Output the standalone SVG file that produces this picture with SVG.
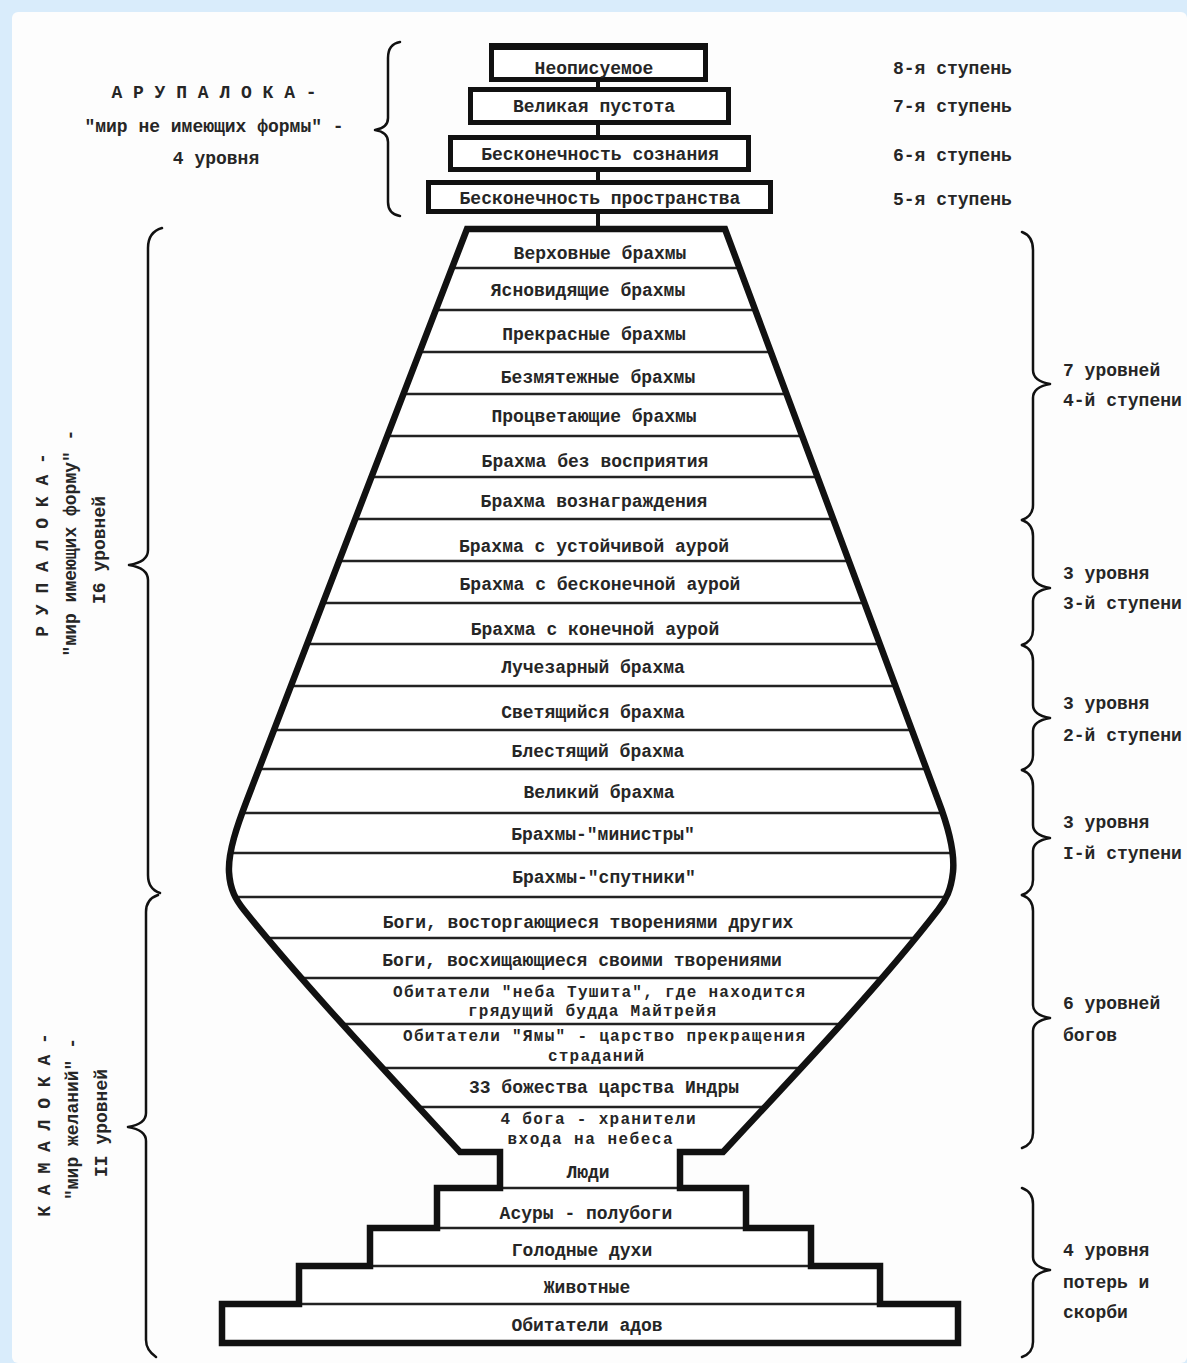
<svg xmlns="http://www.w3.org/2000/svg" width="1187" height="1363" viewBox="0 0 1187 1363">
<defs>
<style>
.t{font-family:"Liberation Mono","DejaVu Sans Mono",monospace;font-size:18px;fill:#262626;font-weight:bold}
.s{font-size:16px}
.c{text-anchor:middle}
.box{fill:#fff;stroke:#111;stroke-width:5}
.out{fill:none;stroke:#111;stroke-width:6.5;stroke-linejoin:miter}
.div{stroke:#222;stroke-width:2.5}
.br{fill:none;stroke:#111;stroke-width:2.5;stroke-linecap:round;stroke-linejoin:round}
.stem{stroke:#111;stroke-width:4}
</style>
<clipPath id="vc"><path d="M467,229 L725,229 L938,800 C948,826 955,852 953,872 C951,890 946,900 938,910 C884,980 809,1060 723,1152 L460,1152 C375,1060 300,980 244,910 C236,900 230,890 229,872 C228,852 237,826 247,800 Z"/></clipPath>
</defs>
<rect x="0" y="0" width="1187" height="1363" fill="#d9ecfb"/>
<rect x="12" y="12" width="1175" height="1351" rx="6" fill="#fdfdfd"/>

<g id="connectors">
<line class="stem" x1="598" y1="80" x2="598" y2="90"/>
<line class="stem" x1="598" y1="123" x2="598" y2="137"/>
<line class="stem" x1="598" y1="170" x2="598" y2="182"/>
<line class="stem" x1="598" y1="212" x2="598" y2="230"/>
</g>

<g id="arupa-boxes">
<g id="n-neopisuemoe"><rect class="box" x="491.5" y="46.5" width="214" height="33"/><rect x="489" y="43" width="219" height="7" fill="#111"/><text class="t c" x="594" y="74">Неописуемое</text></g>
<g id="n-velikaya-pustota"><rect class="box" x="470.5" y="89.5" width="258" height="33"/><text class="t c" x="594" y="112">Великая пустота</text></g>
<g id="n-beskon-soznaniya"><rect class="box" x="450.5" y="137.5" width="298" height="32"/><text class="t c" x="600" y="160">Бесконечность сознания</text></g>
<g id="n-beskon-prostranstva"><rect class="box" x="428.5" y="182.5" width="342" height="29"/><text class="t c" x="600" y="204">Бесконечность пространства</text></g>
</g>

<g id="vase">
<path d="M467,229 L725,229 L938,800 C948,826 955,852 953,872 C951,890 946,900 938,910 C884,980 809,1060 723,1152 L460,1152 C375,1060 300,980 244,910 C236,900 230,890 229,872 C228,852 237,826 247,800 Z" fill="#fff"/>
<g clip-path="url(#vc)">
<line class="div" x1="200" y1="268" x2="1000" y2="268"/>
<line class="div" x1="200" y1="310" x2="1000" y2="310"/>
<line class="div" x1="200" y1="352" x2="1000" y2="352"/>
<line class="div" x1="200" y1="394" x2="1000" y2="394"/>
<line class="div" x1="200" y1="436" x2="1000" y2="436"/>
<line class="div" x1="200" y1="477" x2="1000" y2="477"/>
<line class="div" x1="200" y1="519" x2="1000" y2="519"/>
<line class="div" x1="200" y1="561" x2="1000" y2="561"/>
<line class="div" x1="200" y1="603" x2="1000" y2="603"/>
<line class="div" x1="200" y1="644" x2="1000" y2="644"/>
<line class="div" x1="200" y1="686" x2="1000" y2="686"/>
<line class="div" x1="200" y1="730" x2="1000" y2="730"/>
<line class="div" x1="200" y1="769" x2="1000" y2="769"/>
<line class="div" x1="200" y1="813" x2="1000" y2="813"/>
<line class="div" x1="200" y1="853" x2="1000" y2="853"/>
<line class="div" x1="200" y1="897" x2="1000" y2="897"/>
<line class="div" x1="200" y1="938" x2="1000" y2="938"/>
<line class="div" x1="200" y1="978" x2="1000" y2="978"/>
<line class="div" x1="200" y1="1024" x2="1000" y2="1024"/>
<line class="div" x1="200" y1="1068" x2="1000" y2="1068"/>
<line class="div" x1="200" y1="1107" x2="1000" y2="1107"/>
</g>
<path d="M437,1188 L746,1188 L746,1228 L811,1228 L811,1266 L880,1266 L880,1304 L958,1304 L958,1343 L222,1343 L222,1304 L299,1304 L299,1266 L370,1266 L370,1228 L437,1228 Z" fill="#fff"/>
<rect x="500" y="1152" width="180" height="36" fill="#fff"/>
<line class="div" x1="437" y1="1228" x2="746" y2="1228"/>
<line class="div" x1="370" y1="1266" x2="811" y2="1266"/>
<line class="div" x1="299" y1="1304" x2="880" y2="1304"/>
<line class="div" x1="500" y1="1188" x2="680" y2="1188" stroke-width="3.5"/>
<path class="out" d="M467,229 L725,229 L938,800 C948,826 955,852 953,872 C951,890 946,900 938,910 C884,980 809,1060 723,1152 L680,1152 L680,1188 L746,1188 L746,1228 L811,1228 L811,1266 L880,1266 L880,1304 L958,1304 L958,1343 L222,1343 L222,1304 L299,1304 L299,1266 L370,1266 L370,1228 L437,1228 L437,1188 L500,1188 L500,1152 L460,1152 C375,1060 300,980 244,910 C236,900 230,890 229,872 C228,852 237,826 247,800 Z"/>
</g>

<g id="rupa-levels">
<g id="r1"><text class="t c" x="600" y="259">Верховные брахмы</text></g>
<g id="r2"><text class="t c" x="588" y="296">Ясновидящие брахмы</text></g>
<g id="r3"><text class="t c" x="594" y="340">Прекрасные брахмы</text></g>
<g id="r4"><text class="t c" x="598" y="383">Безмятежные брахмы</text></g>
<g id="r5"><text class="t c" x="594" y="422">Процветающие брахмы</text></g>
<g id="r6"><text class="t c" x="595" y="467">Брахма без восприятия</text></g>
<g id="r7"><text class="t c" x="594" y="507">Брахма вознаграждения</text></g>
<g id="r8"><text class="t c" x="594" y="552">Брахма с устойчивой аурой</text></g>
<g id="r9"><text class="t c" x="600" y="590">Брахма с бесконечной аурой</text></g>
<g id="r10"><text class="t c" x="595" y="635">Брахма с конечной аурой</text></g>
<g id="r11"><text class="t c" x="593" y="673">Лучезарный брахма</text></g>
<g id="r12"><text class="t c" x="593" y="718">Светящийся брахма</text></g>
<g id="r13"><text class="t c" x="598" y="757">Блестящий брахма</text></g>
<g id="r14"><text class="t c" x="599" y="798">Великий брахма</text></g>
<g id="r15"><text class="t c" x="603" y="840">Брахмы-"министры"</text></g>
<g id="r16"><text class="t c" x="604" y="883">Брахмы-"спутники"</text></g>
</g>

<g id="kama-levels">
<g id="k1"><text class="t c" x="588" y="928">Боги, восторгающиеся творениями других</text></g>
<g id="k2"><text class="t c" x="582" y="966">Боги, восхищающиеся своими творениями</text></g>
<g id="k3"><text class="t s c" x="599" y="997" textLength="412" lengthAdjust="spacing">Обитатели "неба Тушита", где находится</text><text class="t s c" x="592" y="1016" textLength="248" lengthAdjust="spacing">грядущий будда Майтрейя</text></g>
<g id="k4"><text class="t s c" x="604" y="1041" textLength="402" lengthAdjust="spacing">Обитатели "Ямы" - царство прекращения</text><text class="t s c" x="596" y="1061" textLength="96" lengthAdjust="spacing">страданий</text></g>
<g id="k5"><text class="t c" x="604" y="1093">33 божества царства Индры</text></g>
<g id="k6"><text class="t s c" x="598" y="1124" textLength="195" lengthAdjust="spacing">4 бога - хранители</text><text class="t s c" x="590" y="1144" textLength="165" lengthAdjust="spacing">входа на небеса</text></g>
<g id="k7"><text class="t c" x="588" y="1178">Люди</text></g>
<g id="k8"><text class="t c" x="586" y="1219">Асуры - полубоги</text></g>
<g id="k9"><text class="t c" x="582" y="1256">Голодные духи</text></g>
<g id="k10"><text class="t c" x="587" y="1293">Животные</text></g>
<g id="k11"><text class="t c" x="587" y="1331">Обитатели адов</text></g>
</g>

<g id="braces">
<path class="br" d="M400,42 Q388,44 388,58 L388,118 Q388,128 375,130 Q388,132 388,142 L388,202 Q388,214 400,216"/>
<path class="br" d="M162,228 Q148,232 148,248 L148,550 Q148,562 129,565 Q148,568 148,580 L148,875 Q148,889 160,893"/>
<path class="br" d="M158,895 Q146,899 146,912 L146,1113 Q146,1124 128,1127 Q146,1130 146,1141 L146,1340 Q146,1350 156,1357"/>
<path class="br" d="M1022,232 Q1033,236 1033,250 L1033,370 Q1033,381 1050,384 Q1033,387 1033,398 L1033,505 Q1033,516 1022,520"/>
<path class="br" d="M1022,520 Q1033,524 1033,536 L1033,575 Q1033,585 1050,588 Q1033,591 1033,601 L1033,630 Q1033,641 1022,645"/>
<path class="br" d="M1022,645 Q1033,649 1033,661 L1033,705 Q1033,715 1050,718 Q1033,721 1033,731 L1033,755 Q1033,766 1022,770"/>
<path class="br" d="M1022,770 Q1033,774 1033,786 L1033,825 Q1033,835 1050,838 Q1033,841 1033,851 L1033,880 Q1033,891 1022,895"/>
<path class="br" d="M1022,895 Q1033,899 1033,911 L1033,1005 Q1033,1015 1050,1018 Q1033,1021 1033,1031 L1033,1133 Q1033,1144 1022,1148"/>
<path class="br" d="M1022,1188 Q1033,1192 1033,1204 L1033,1257 Q1033,1267 1050,1270 Q1033,1273 1033,1283 L1033,1342 Q1033,1353 1022,1357"/>
</g>

<g id="label-arupaloka">
<text class="t c" x="214" y="98">А Р У П А Л О К А -</text>
<text class="t c" x="214" y="132">"мир не имеющих формы" -</text>
<text class="t c" x="216" y="164">4 уровня</text>
</g>
<g id="label-rupaloka">
<text class="t c" x="48" y="545" transform="rotate(-90 48 545)">Р У П А Л О К А -</text>
<text class="t c" x="76" y="543" transform="rotate(-90 76 543)">"мир имеющих форму" -</text>
<text class="t c" x="105" y="550" transform="rotate(-90 105 550)">I6 уровней</text>
</g>
<g id="label-kamaloka">
<text class="t c" x="50" y="1125" transform="rotate(-90 50 1125)">К А М А Л О К А -</text>
<text class="t c" x="78" y="1119" transform="rotate(-90 78 1119)">"мир желаний" -</text>
<text class="t c" x="107" y="1123" transform="rotate(-90 107 1123)">II уровней</text>
</g>

<g id="steps-labels">
<text class="t" x="893" y="74">8-я ступень</text>
<text class="t" x="893" y="112">7-я ступень</text>
<text class="t" x="893" y="161">6-я ступень</text>
<text class="t" x="893" y="205">5-я ступень</text>
</g>
<g id="group-labels">
<text class="t" x="1063" y="376">7 уровней</text>
<text class="t" x="1063" y="406">4-й ступени</text>
<text class="t" x="1063" y="579">3 уровня</text>
<text class="t" x="1063" y="609">3-й ступени</text>
<text class="t" x="1063" y="709">3 уровня</text>
<text class="t" x="1063" y="741">2-й ступени</text>
<text class="t" x="1063" y="828">3 уровня</text>
<text class="t" x="1063" y="859">I-й ступени</text>
<text class="t" x="1063" y="1009">6 уровней</text>
<text class="t" x="1063" y="1041">богов</text>
<text class="t" x="1063" y="1256">4 уровня</text>
<text class="t" x="1063" y="1288">потерь и</text>
<text class="t" x="1063" y="1318">скорби</text>
</g>
</svg>
